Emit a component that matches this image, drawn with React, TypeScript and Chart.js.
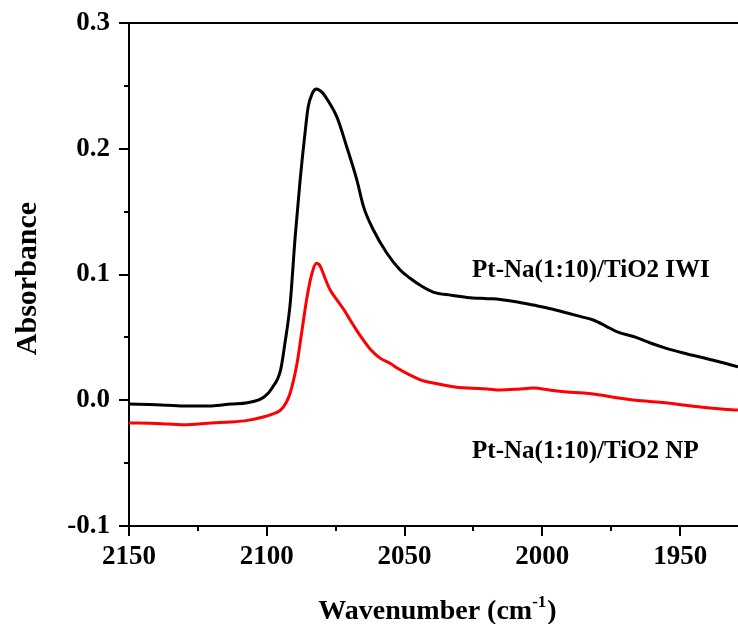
import React, { useEffect, useRef } from 'react';
import { Chart, registerables } from 'chart.js';

Chart.register(...registerables);

// IR spectra of adsorbed CO on the two Pt-Na/TiO2 catalysts
const iwiWavenumbers = [
  2150, 2140, 2130, 2120, 2113, 2107, 2101, 2098, 2095, 2093.4, 2091.5, 2089.7,
  2087.9, 2086, 2085, 2083.5, 2082, 2080, 2078, 2074.5, 2071, 2067.3, 2064.9,
  2061.3, 2056.4, 2051.6, 2048, 2044, 2039.6, 2033, 2027.3, 2020, 2015.3, 2009,
  2003.3, 1997, 1991, 1986, 1981.5, 1977, 1972.8, 1966, 1960.8, 1955, 1948.8,
  1942, 1936.5, 1929,
];
const iwiAbsorbance = [
  -0.003, -0.0035, -0.0045, -0.0045, -0.003, -0.002, 0.0026, 0.01, 0.024, 0.0455,
  0.077, 0.13, 0.175, 0.215, 0.233, 0.244, 0.2475, 0.245, 0.239, 0.225, 0.2016,
  0.1751, 0.154, 0.1354, 0.1169, 0.1036, 0.097, 0.091, 0.086, 0.0835, 0.0818,
  0.0808, 0.0802, 0.0782, 0.0757, 0.0728, 0.0694, 0.0665, 0.0638, 0.059, 0.0543,
  0.05, 0.0455, 0.0413, 0.0376, 0.034, 0.031, 0.0265,
];

const npWavenumbers = [
  2150, 2140, 2130, 2120, 2113, 2107, 2101.3, 2098, 2095, 2093, 2091.5, 2089,
  2087.2, 2085.4, 2083.6, 2082, 2081, 2080, 2078.5, 2077, 2074.5, 2072, 2069.8,
  2067.5, 2065, 2062, 2058.9, 2055, 2052.7, 2048, 2044, 2039.6, 2033, 2027.3,
  2020, 2015.3, 2009, 2003.3, 1997, 1991, 1985, 1979, 1973, 1967, 1961, 1954.6,
  1948, 1942.7, 1936, 1929,
];
const npAbsorbance = [
  -0.018, -0.0185, -0.0195, -0.018, -0.0173, -0.016, -0.0133, -0.011, -0.0078,
  -0.002, 0.0058, 0.0296, 0.0559, 0.082, 0.101, 0.109, 0.108, 0.1036, 0.095,
  0.0877, 0.0797, 0.072, 0.064, 0.056, 0.048, 0.0395, 0.0335, 0.029, 0.0256, 0.02,
  0.016, 0.0137, 0.011, 0.0097, 0.009, 0.0082, 0.0088, 0.0097, 0.008, 0.0066,
  0.0058, 0.0042, 0.002, 0.0002, -0.001, -0.0022, -0.004, -0.0054, -0.0068,
  -0.0078,
];

const xMajorTicks = [1950, 2000, 2050, 2100, 2150];
const xMinorTicks = [1975, 2025, 2075, 2125];
const yMajorTicks = [-0.1, 0, 0.1, 0.2, 0.3];
const yMinorTicks = [-0.05, 0.05, 0.15, 0.25];

const seriesNames = ['Pt-Na(1:10)/TiO2 IWI', 'Pt-Na(1:10)/TiO2 NP'];

const SERIF = "'Liberation Serif', 'Times New Roman', serif";

// Frame, tick marks, axis titles and curve labels
const decorations = {
  id: 'spectrumDecorations',
  afterDraw(chart: any) {
    const ctx = chart.ctx as CanvasRenderingContext2D;
    const { left, right, top, bottom } = chart.chartArea;
    const xs = chart.scales.x;
    const ys = chart.scales.y;

    ctx.save();
    ctx.strokeStyle = '#000';
    ctx.lineWidth = 2;
    ctx.beginPath();
    ctx.moveTo(left, top);
    ctx.lineTo(right, top);
    ctx.stroke();

    ctx.beginPath();
    for (const v of xMajorTicks) {
      const px = Math.round(xs.getPixelForValue(v));
      ctx.moveTo(px, bottom);
      ctx.lineTo(px, bottom + 10);
    }
    for (const v of xMinorTicks) {
      const px = Math.round(xs.getPixelForValue(v));
      ctx.moveTo(px, bottom);
      ctx.lineTo(px, bottom + 5);
    }
    for (const v of yMajorTicks) {
      const py = Math.round(ys.getPixelForValue(v));
      ctx.moveTo(left, py);
      ctx.lineTo(left - 10, py);
    }
    for (const v of yMinorTicks) {
      const py = Math.round(ys.getPixelForValue(v));
      ctx.moveTo(left, py);
      ctx.lineTo(left - 5, py);
    }
    ctx.stroke();

    ctx.fillStyle = '#000';

    // x axis title with superscript
    const titleFont = `bold 28px ${SERIF}`;
    const supFont = `bold 17px ${SERIF}`;
    const main = 'Wavenumber (cm';
    const sup = '-1';
    const close = ')';
    ctx.font = titleFont;
    const wMain = ctx.measureText(main).width;
    const wClose = ctx.measureText(close).width;
    ctx.font = supFont;
    const wSup = ctx.measureText(sup).width + 1;
    const total = wMain + wSup + wClose;
    const cx = (left + right) / 2 + 4;
    let tx = cx - total / 2;
    const baseY = 619;
    ctx.textAlign = 'left';
    ctx.textBaseline = 'alphabetic';
    ctx.font = titleFont;
    ctx.fillText(main, tx, baseY);
    tx += wMain;
    ctx.font = supFont;
    ctx.fillText(sup, tx, baseY - 12);
    tx += wSup;
    ctx.font = titleFont;
    ctx.fillText(close, tx, baseY);

    // y axis title
    ctx.save();
    ctx.translate(36, (top + bottom) / 2 + 4);
    ctx.rotate(-Math.PI / 2);
    ctx.font = `bold 30px ${SERIF}`;
    ctx.textAlign = 'center';
    ctx.textBaseline = 'alphabetic';
    ctx.fillText('Absorbance', 0, 0);
    ctx.restore();

    // curve labels
    ctx.font = `bold 25px ${SERIF}`;
    ctx.textAlign = 'left';
    ctx.textBaseline = 'alphabetic';
    ctx.fillText(seriesNames[0], xs.getPixelForValue(2025.5), ys.getPixelForValue(0.098));
    ctx.fillText(seriesNames[1], xs.getPixelForValue(2025.5), ys.getPixelForValue(-0.046));
    ctx.restore();
  },
};

export default function App() {
  const canvasRef = useRef<HTMLCanvasElement | null>(null);

  useEffect(() => {
    const canvas = canvasRef.current;
    if (!canvas) return;

    const chart = new Chart(canvas, {
      type: 'line',
      data: {
        datasets: [
          {
            label: seriesNames[1],
            data: npWavenumbers.map((x, i) => ({ x, y: npAbsorbance[i] })),
            borderColor: '#ff0000',
            borderWidth: 3,
            pointRadius: 0,
            cubicInterpolationMode: 'monotone',
            fill: false,
          },
          {
            label: seriesNames[0],
            data: iwiWavenumbers.map((x, i) => ({ x, y: iwiAbsorbance[i] })),
            borderColor: '#000000',
            borderWidth: 3,
            pointRadius: 0,
            cubicInterpolationMode: 'monotone',
            fill: false,
          },
        ],
      },
      options: {
        animation: false,
        responsive: false,
        devicePixelRatio: 1,
        layout: { padding: { top: 23, right: 0, left: 0, bottom: 0 } },
        plugins: {
          legend: { display: false },
          tooltip: { enabled: false },
        },
        scales: {
          x: {
            type: 'linear',
            reverse: true,
            min: 1929,
            max: 2150,
            grid: { display: false },
            border: { display: true, color: '#000', width: 2 },
            afterBuildTicks: (scale: any) => {
              scale.ticks = xMajorTicks.map((value) => ({ value }));
            },
            afterFit: (scale: any) => {
              scale.height = 98;
              scale.paddingLeft = 0;
              scale.paddingRight = 0;
            },
            ticks: {
              autoSkip: false,
              maxRotation: 0,
              padding: 7,
              color: '#000',
              font: { family: SERIF, size: 27, weight: 'bold' },
              callback: (v: any) => String(v),
            },
          },
          y: {
            type: 'linear',
            min: -0.1,
            max: 0.3,
            grid: { display: false },
            border: { display: true, color: '#000', width: 2 },
            afterBuildTicks: (scale: any) => {
              scale.ticks = yMajorTicks.map((value) => ({ value }));
            },
            afterFit: (scale: any) => {
              scale.width = 129;
              scale.paddingTop = 0;
              scale.paddingBottom = 0;
            },
            ticks: {
              padding: 11,
              color: '#000',
              font: { family: SERIF, size: 27, weight: 'bold' },
              callback: (v: any) => Number(v).toFixed(1),
            },
          },
        },
      },
      plugins: [decorations],
    });

    return () => chart.destroy();
  }, []);

  return (
    <div style={{ position: 'absolute', left: 0, top: 0, width: 738, height: 624, background: '#fff' }}>
      <canvas ref={canvasRef} width={738} height={624} />
    </div>
  );
}
